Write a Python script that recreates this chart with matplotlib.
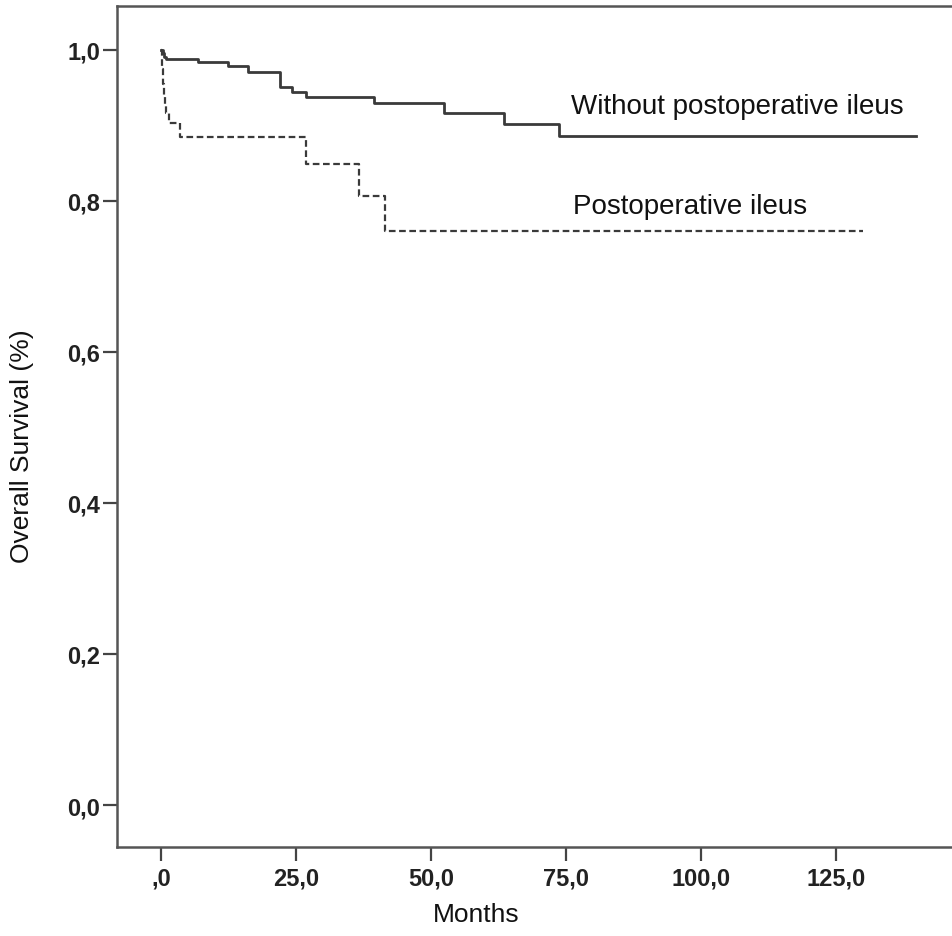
import matplotlib
matplotlib.use("Agg")
import matplotlib.pyplot as plt

# Without postoperative ileus (Kaplan-Meier steps)
t_without = [0, 0.3, 0.6, 1.0, 6.9, 12.4, 16.1, 22.0, 24.2, 26.8, 39.4, 52.4, 63.6, 73.7, 139.8]
s_without = [1.0, 0.995, 0.990, 0.987, 0.984, 0.979, 0.971, 0.950, 0.944, 0.937, 0.929, 0.916, 0.901, 0.886, 0.886]

# Postoperative ileus
t_ileus = [0, 0.2, 0.4, 0.6, 0.8, 1.0, 1.4, 3.5, 26.8, 36.7, 41.5, 130.0]
s_ileus = [1.0, 0.975, 0.955, 0.94, 0.928, 0.916, 0.903, 0.885, 0.848, 0.806, 0.760, 0.760]

x_ticks = [0, 25, 50, 75, 100, 125]
x_ticklabels = [",0", "25,0", "50,0", "75,0", "100,0", "125,0"]
y_ticks = [0.0, 0.2, 0.4, 0.6, 0.8, 1.0]
y_ticklabels = ["0,0", "0,2", "0,4", "0,6", "0,8", "1,0"]

plt.rcParams['font.family'] = ['Liberation Sans', 'DejaVu Sans']

fig = plt.figure(figsize=(9.52, 9.37), dpi=100)
ax = fig.add_axes([117/952, (937-847.7)/937, 1 - 117/952, (847.7-7.3)/937])

line_col = '#3a3a3a'
ax.plot(t_without, s_without, drawstyle='steps-post', color=line_col, lw=2.0)
ax.plot(t_ileus, s_ileus, drawstyle='steps-post', color=line_col, lw=1.6,
        linestyle=(0, (3.0, 1.6)))

ax.set_xlim(-8.15, 146.5)
ax.set_ylim(-0.0552, 1.0574)

ax.set_xticks(x_ticks)
ax.set_xticklabels(x_ticklabels, fontsize=17, fontweight='bold')
ax.set_yticks(y_ticks)
ax.set_yticklabels(y_ticklabels, fontsize=17, fontweight='bold')

ax.tick_params(axis='both', length=10, width=1.6, color='#444444', labelcolor='#222222')
ax.tick_params(axis='x', pad=4)
ax.tick_params(axis='y', pad=2)

for side in ['left', 'bottom', 'top']:
    ax.spines[side].set_color('#555555')
    ax.spines[side].set_linewidth(1.8)
ax.spines['right'].set_visible(False)

ax.set_xlabel('Months', fontsize=19, color='#111111', va='center')
ax.set_ylabel('Overall Survival (%)', fontsize=19, color='#111111', va='center')
ax.xaxis.set_label_coords((476 - 117) / 835, -(915 - 847.7) / 840.4)
ax.yaxis.set_label_coords((22 - 117) / 835, (847.7 - 446) / 840.4)

ax.text(75.9, 0.9165, 'Without postoperative ileus', fontsize=20, color='#111111', va='baseline')
ax.text(76.3, 0.784, 'Postoperative ileus', fontsize=20, color='#111111', va='baseline')

fig.savefig('out.png', dpi=100)
